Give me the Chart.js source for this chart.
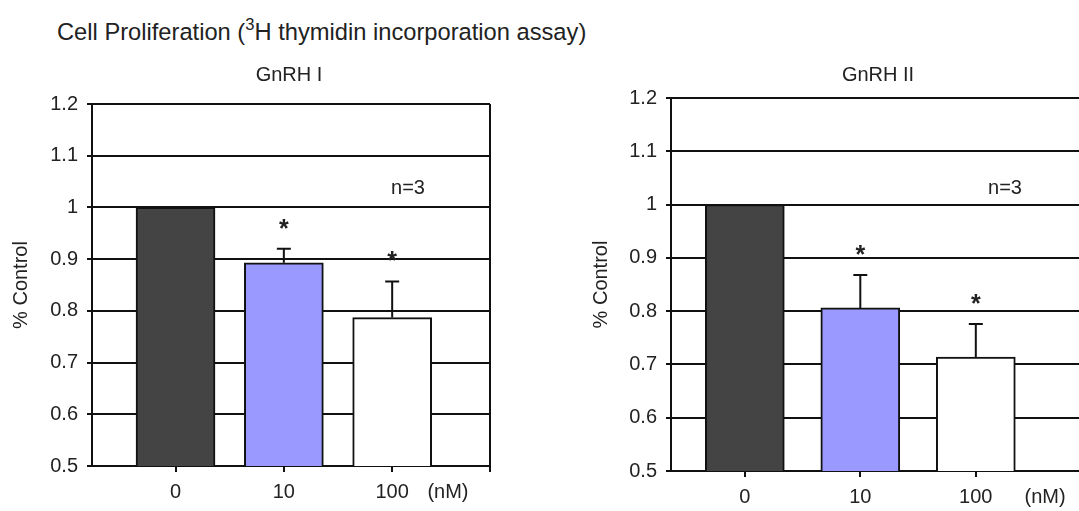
<!DOCTYPE html>
<html>
<head>
<meta charset="utf-8">
<script src="https://cdn.jsdelivr.net/npm/chart.js@4.4.0/dist/chart.umd.min.js"></script>
<style>
    html, body { margin: 0; padding: 0; background: #fff; overflow: hidden; }
    body { width: 1079px; height: 511px; position: relative; font-family: "Liberation Sans", Arial, sans-serif; color: #222; }
    #mainTitle { position: absolute; left: 57px; top: 20px; font-size: 23.7px; line-height: 24px; white-space: nowrap; }
    #mainTitle sup { font-size: 0.7em; line-height: 0; vertical-align: 0.6em; }
    .box { position: absolute; top: 0; height: 511px; }
    #boxI { left: 0; width: 540px; }
    #boxII { left: 540px; width: 600px; }
</style>
</head>
<body>
<div id="mainTitle">Cell Proliferation (<sup>3</sup>H thymidin incorporation assay)</div>
<div class="box" id="boxI"><canvas id="chartI"></canvas></div>
<div class="box" id="boxII"><canvas id="chartII"></canvas></div>
<script>
// 데이터
const doseLabels = ['0', '10', '100'];
const unitLabel = '(nM)';
const yTickValues = [0.5, 0.6, 0.7, 0.8, 0.9, 1.0, 1.1, 1.2];
const barColors = ['#444444', '#9999ff', '#ffffff'];

const gnrh1Values = [1.0, 0.893, 0.787];
const gnrh1Errors = [0, 0.027, 0.070];
const gnrh1Signif = [false, true, true];

const gnrh2Values = [1.0, 0.806, 0.714];
const gnrh2Errors = [0, 0.062, 0.062];
const gnrh2Signif = [false, true, true];

const sampleNote = 'n=3';

const FONT_FAMILY = '"Liberation Sans", Arial, sans-serif';
const TEXT_COLOR = '#222';
const LINE_COLOR = '#111';

// 오차막대, 별표, 제목
function makeAnnotations(cfg) {
    return {
        id: 'annotations',
        afterDatasetsDraw(chart) {
            const { ctx, scales: { x, y } } = chart;
            ctx.save();
            ctx.strokeStyle = LINE_COLOR;
            ctx.lineWidth = 2;
            cfg.values.forEach((v, i) => {
                const err = cfg.errors[i];
                const cx = x.getPixelForValue(i);
                const yTop = y.getPixelForValue(v + err);
                if (err > 0) {
                    ctx.beginPath();
                    ctx.moveTo(cx, y.getPixelForValue(v));
                    ctx.lineTo(cx, yTop);
                    ctx.moveTo(cx - 7, yTop);
                    ctx.lineTo(cx + 7, yTop);
                    ctx.stroke();
                }
                if (cfg.signif[i]) {
                    ctx.font = 'bold 25px ' + FONT_FAMILY;
                    ctx.fillStyle = TEXT_COLOR;
                    ctx.textAlign = 'center';
                    ctx.textBaseline = 'alphabetic';
                    const m = ctx.measureText('*');
                    const cy = yTop - 25;
                    ctx.fillText('*', cx, cy + (m.actualBoundingBoxAscent - m.actualBoundingBoxDescent) / 2);
                }
            });

            ctx.font = '20px ' + FONT_FAMILY;
            ctx.fillStyle = TEXT_COLOR;
            ctx.textAlign = 'center';
            ctx.textBaseline = 'middle';
            ctx.fillText(sampleNote, x.getPixelForValue(cfg.notePos[0]), y.getPixelForValue(cfg.notePos[1]));

            ctx.fillText(cfg.title, cfg.titleX, cfg.titleY);
            ctx.restore();
        }
    };
}

function createChart(canvasId, cfg) {
    const tickFont = { family: FONT_FAMILY, size: 20 };
    return new Chart(document.getElementById(canvasId), {
        type: 'bar',
        data: {
            datasets: [{
                data: cfg.values.map((v, i) => ({ x: i, y: v })),
                backgroundColor: barColors,
                borderColor: LINE_COLOR,
                borderWidth: 2,
                barThickness: cfg.barWidth
            }]
        },
        options: {
            responsive: true,
            maintainAspectRatio: false,
            animation: false,
            layout: { padding: cfg.padding },
            plugins: {
                legend: { display: false },
                tooltip: { enabled: false }
            },
            scales: {
                x: {
                    type: 'linear',
                    offset: false,
                    min: cfg.xMin,
                    max: cfg.xMax,
                    afterBuildTicks: s => {
                        s.ticks = doseLabels.map((_, i) => ({ value: i }))
                            .concat([{ value: cfg.unitPos }, { value: cfg.xMax }]);
                    },
                    afterFit: s => { s.height = cfg.xAxisHeight; },
                    ticks: {
                        autoSkip: false,
                        maxRotation: 0,
                        padding: 8,
                        font: tickFont,
                        color: TEXT_COLOR,
                        callback: (value, index) => {
                            if (index < doseLabels.length) return doseLabels[index];
                            if (value === cfg.unitPos) return unitLabel;
                            return '';
                        }
                    },
                    grid: {
                        offset: false,
                        lineWidth: 2,
                        tickLength: 6,
                        color: c => (c.tick && c.tick.value === cfg.xMax) ? LINE_COLOR : 'rgba(0,0,0,0)',
                        tickColor: c => (c.tick && c.tick.value === cfg.unitPos) ? 'rgba(0,0,0,0)' : LINE_COLOR
                    },
                    border: { color: LINE_COLOR, width: 2 }
                },
                y: {
                    min: 0.5,
                    max: 1.2,
                    afterBuildTicks: s => { s.ticks = yTickValues.map(v => ({ value: v })); },
                    afterFit: s => { s.width = cfg.yAxisWidth; },
                    ticks: {
                        padding: 9,
                        font: tickFont,
                        color: TEXT_COLOR,
                        callback: v => String(Number(v.toFixed(1)))
                    },
                    grid: { color: LINE_COLOR, lineWidth: 2, tickLength: 5 },
                    border: { color: LINE_COLOR, width: 2 },
                    title: {
                        display: true,
                        text: '% Control',
                        font: tickFont,
                        color: TEXT_COLOR,
                        padding: { top: 9, bottom: 0 }
                    }
                }
            }
        },
        plugins: [makeAnnotations(cfg)]
    });
}

createChart('chartI', {
    title: 'GnRH I',
    titleX: 289, titleY: 75,
    values: gnrh1Values, errors: gnrh1Errors, signif: gnrh1Signif,
    xMin: -0.771, xMax: 2.903, unitPos: 2.515,
    notePos: [2.146, 1.036],
    barWidth: 79,
    padding: { left: 0, right: 50, top: 104, bottom: 0 },
    yAxisWidth: 92,
    xAxisHeight: 45
});

createChart('chartII', {
    title: 'GnRH II',
    titleX: 338, titleY: 75,
    values: gnrh2Values, errors: gnrh2Errors, signif: gnrh2Signif,
    xMin: -0.639, xMax: 3.335, unitPos: 2.60,
    notePos: [2.253, 1.030],
    barWidth: 79,
    padding: { left: 40, right: 10, top: 98, bottom: 0 },
    yAxisWidth: 91,
    xAxisHeight: 40
});
</script>
</body>
</html>
